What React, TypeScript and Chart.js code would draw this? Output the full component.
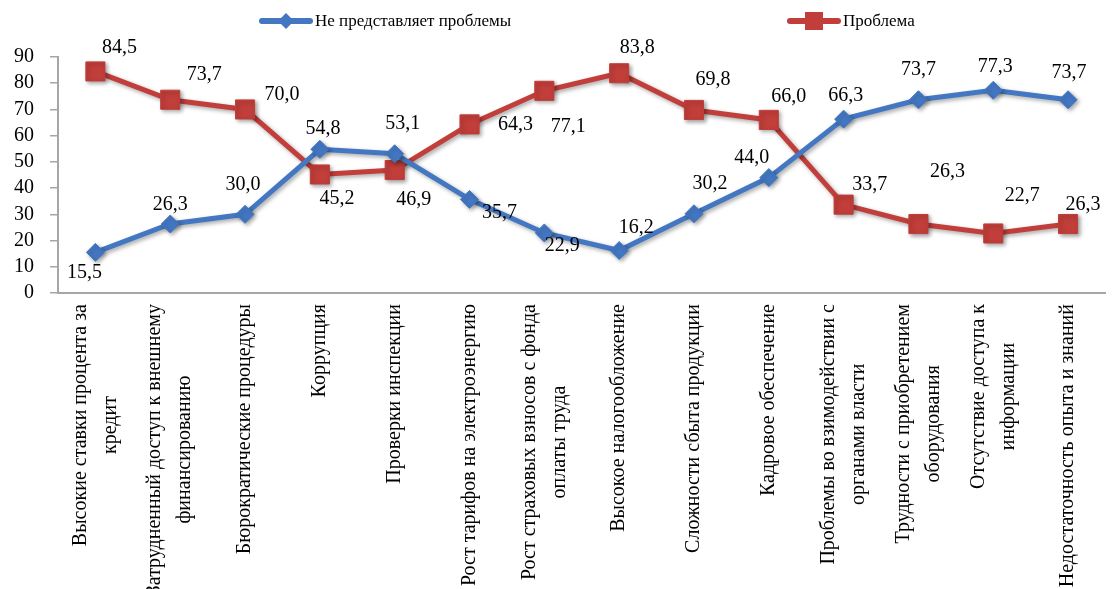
import React, { useEffect, useRef } from 'react';
import { Chart, registerables } from 'chart.js';

Chart.register(...registerables);

const categories: string[][] = [
  ['Высокие ставки процента за', 'кредит'],
  ['Затрудненный доступ к внешнему', 'финансированию'],
  ['Бюрократические процедуры'],
  ['Коррупция'],
  ['Проверки инспекции'],
  ['Рост тарифов на электроэнергию'],
  ['Рост страховых взносов с фонда', 'оплаты труда'],
  ['Высокое налогообложение'],
  ['Сложности сбыта продукции'],
  ['Кадровое обеспечение'],
  ['Проблемы во взимодействии с', 'органами власти'],
  ['Трудности с приобретением', 'оборудования'],
  ['Отсутствие доступа к', 'информации'],
  ['Недостаточность опыта и знаний'],
];

const seriesNames = ['Не представляет проблемы', 'Проблема'];
const noProblem = [15.5, 26.3, 30.0, 54.8, 53.1, 35.7, 22.9, 16.2, 30.2, 44.0, 66.3, 73.7, 77.3, 73.7];
const problem = [84.5, 73.7, 70.0, 45.2, 46.9, 64.3, 77.1, 83.8, 69.8, 66.0, 33.7, 26.3, 22.7, 26.3];
const yMin = 0;
const yMax = 90;
const yStep = 10;

// data-label offsets relative to each point (style only)
const noProblemLabelOffsets: number[][] = [
  [-11, 20], [0, -19], [-2, -30], [3, -21], [8, -30], [30, 13], [18, 13],
  [17, -23], [16, -30], [-17, -20], [2, -23], [0, -30], [2, -24], [1, -27],
];
const problemLabelOffsets: number[][] = [
  [24, -24], [34, -25], [37, -15], [17, 24], [19, 30], [46, 0], [24, 36],
  [18, -26], [19, -30], [20, -23], [26, -20], [29, -52], [29, -38], [15, -19],
];

const BLUE = '#4377C2';
const RED = '#C13E3A';
const SERIF = "'Liberation Serif', 'Times New Roman', serif";

const fmt = (v: number) => v.toFixed(1).replace('.', ',');

const shadowPlugin = {
  id: 'shadowPlugin',
  beforeDatasetsDraw(chart: any) {
    const ctx = chart.ctx;
    ctx.save();
    ctx.shadowColor = 'rgba(0,0,0,0.35)';
    ctx.shadowBlur = 4;
    ctx.shadowOffsetX = 2;
    ctx.shadowOffsetY = 2;
  },
  afterDatasetsDraw(chart: any) {
    chart.ctx.restore();
  },
};

const labelsPlugin = {
  id: 'labelsPlugin',
  afterDraw(chart: any) {
    const ctx = chart.ctx;
    // x category labels, rotated, multi-line centered
    const xs = chart.scales.x;
    ctx.save();
    ctx.fillStyle = '#000';
    ctx.font = `20px ${SERIF}`;
    ctx.textAlign = 'center';
    ctx.textBaseline = 'middle';
    categories.forEach((lines, i) => {
      const x = xs.getPixelForTick(i);
      const y = xs.top + 11;
      const maxW = Math.max(...lines.map((l) => ctx.measureText(l).width));
      ctx.save();
      ctx.translate(x, y);
      ctx.rotate(-Math.PI / 2);
      lines.forEach((l, j) => {
        ctx.fillText(l, -maxW / 2, (j - (lines.length - 1) / 2) * 30);
      });
      ctx.restore();
    });
    ctx.restore();

    // data labels
    const offsets = [noProblemLabelOffsets, problemLabelOffsets];
    ctx.save();
    ctx.fillStyle = '#000';
    ctx.font = `20px ${SERIF}`;
    ctx.textAlign = 'center';
    ctx.textBaseline = 'middle';
    chart.data.datasets.forEach((ds: any, di: number) => {
      const meta = chart.getDatasetMeta(di);
      meta.data.forEach((el: any, i: number) => {
        const [dx, dy] = offsets[di][i];
        ctx.fillText(fmt(ds.data[i]), el.x + dx, el.y + dy);
      });
    });
    ctx.restore();

    // legend
    const items = [
      { x: 262, color: BLUE, diamond: true, r: 8 },
      { x: 790, color: RED, diamond: false, r: 9 },
    ];
    ctx.save();
    ctx.font = `17px ${SERIF}`;
    ctx.textBaseline = 'middle';
    ctx.textAlign = 'left';
    items.forEach((it, k) => {
      const y = 21;
      ctx.strokeStyle = it.color;
      ctx.lineWidth = 6;
      ctx.lineCap = 'round';
      ctx.beginPath();
      ctx.moveTo(it.x, y);
      ctx.lineTo(it.x + 48, y);
      ctx.stroke();
      ctx.fillStyle = it.color;
      const cx = it.x + 24;
      ctx.beginPath();
      if (it.diamond) {
        ctx.moveTo(cx - it.r, y);
        ctx.lineTo(cx, y - it.r);
        ctx.lineTo(cx + it.r, y);
        ctx.lineTo(cx, y + it.r);
        ctx.closePath();
      } else {
        ctx.rect(cx - it.r, y - it.r, it.r * 2, it.r * 2);
      }
      ctx.fill();
      ctx.fillStyle = '#000';
      ctx.fillText(seriesNames[k], it.x + 53, y + 1);
    });
    ctx.restore();
  },
};

export default function App() {
  const canvasRef = useRef<HTMLCanvasElement | null>(null);

  useEffect(() => {
    document.body.style.margin = '0';
    const canvas = canvasRef.current;
    if (!canvas) return;
    const chart = new Chart(canvas, {
      type: 'line',
      data: {
        labels: categories.map((c) => c.join(' ')),
        datasets: [
          {
            label: seriesNames[0],
            data: noProblem,
            borderColor: BLUE,
            backgroundColor: BLUE,
            borderWidth: 5,
            pointStyle: 'rectRot',
            pointRadius: 9,
            pointBorderWidth: 1,
            pointBackgroundColor: BLUE,
            pointBorderColor: BLUE,
            tension: 0,
          },
          {
            label: seriesNames[1],
            data: problem,
            borderColor: RED,
            backgroundColor: RED,
            borderWidth: 5,
            pointStyle: 'rect',
            pointRadius: 13.5,
            pointBorderWidth: 1,
            pointBackgroundColor: RED,
            pointBorderColor: RED,
            tension: 0,
          },
        ],
      },
      options: {
        animation: false,
        responsive: true,
        maintainAspectRatio: false,
        layout: { padding: { top: 57, right: 4, left: 0, bottom: 0 } },
        plugins: {
          legend: { display: false },
          tooltip: { enabled: false },
        },
        scales: {
          x: {
            offset: true,
            grid: { display: false },
            border: { display: true, color: '#A6A6A6', width: 2 },
            ticks: { display: false },
            afterFit(scale: any) {
              scale.height = 296;
            },
          },
          y: {
            min: yMin,
            max: yMax,
            grid: { drawOnChartArea: false, tickLength: 8, color: '#A6A6A6', lineWidth: 1.5 },
            border: { display: true, color: '#A6A6A6', width: 2 },
            ticks: {
              stepSize: yStep,
              autoSkip: false,
              color: '#000',
              padding: 16,
              font: { family: SERIF, size: 20 },
            },
            afterFit(scale: any) {
              scale.width = 58;
            },
          },
        },
      },
      plugins: [shadowPlugin, labelsPlugin],
    } as any);
    return () => chart.destroy();
  }, []);

  return (
    <div style={{ width: 1120, height: 589, position: 'relative', background: '#fff' }}>
      <canvas ref={canvasRef} />
    </div>
  );
}
